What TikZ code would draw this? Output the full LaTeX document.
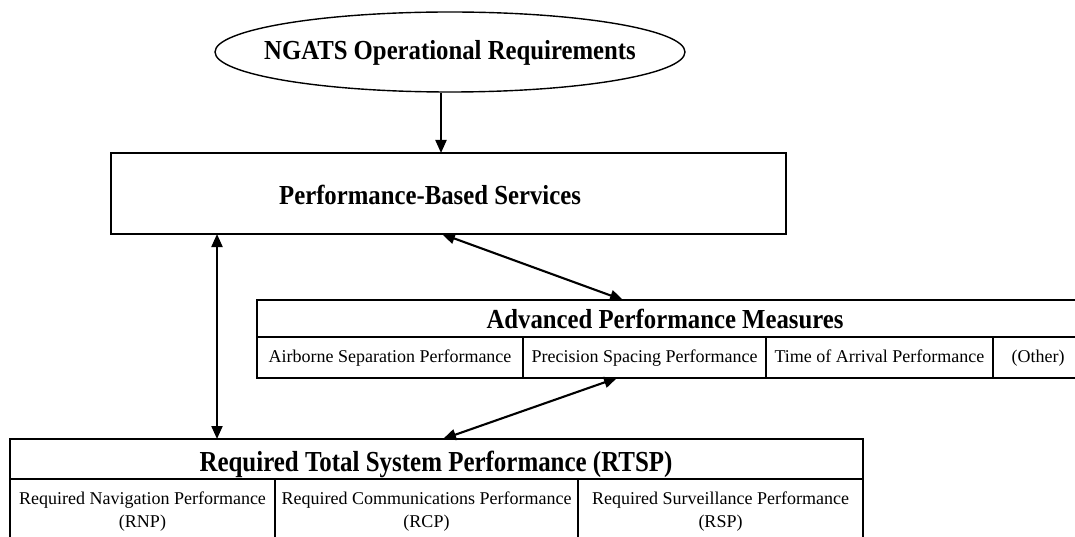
\documentclass[tikz,border=0pt]{standalone}
\usepackage{fontspec}
\setmainfont{Liberation Serif}
\newfontfamily\bcond[FakeStretch=0.9]{Liberation Serif}
\newfontfamily\bcondh[FakeStretch=0.86]{Liberation Serif}
\usetikzlibrary{arrows.meta,shapes.geometric,calc}
\tikzset{
  boxline/.style={draw=black, line width=1.4pt},
  cell/.style={boxline, rectangle, inner sep=0pt, outer sep=0pt, anchor=north west},
  bigtxt/.style={inner sep=0pt, font=\bcond\bfseries\fontsize{27.5}{30}\selectfont},
  hdrtxt/.style={inner sep=0pt, font=\bcondh\bfseries\fontsize{29}{32}\selectfont},
  subtxt/.style={inner sep=0pt, font=\fontsize{18}{23}\selectfont, align=center},
  arr/.style={line width=2.1pt, -{Triangle[length=13pt,width=11pt]}},
  darr/.style={line width=2.1pt, {Triangle[length=13pt,width=11pt]}-{Triangle[length=13pt,width=11pt]}},
}
\begin{document}
\begin{tikzpicture}[x=1pt,y=1pt]
\useasboundingbox (0,0) rectangle (1075,-537);
\begin{scope}
\clip (0,0) rectangle (1075,-537);
% ellipse
\node[ellipse, boxline, minimum width=470, minimum height=80, inner sep=0pt] (ngats) at (450,-52) {};
\node[bigtxt, anchor=base] (ngatstxt) at (450,-60) {NGATS Operational Requirements};
% PBS box
\node[cell, minimum width=675, minimum height=81] (pbs) at (111,-153) {};
\node[bigtxt, anchor=base] (pbstxt) at (430,-205) {Performance-Based Services};
% APM table
\node[cell, minimum width=823, minimum height=37] (apm) at (257,-300) {};
\node[bigtxt, anchor=base] (apmtxt) at (665,-328) {Advanced Performance Measures};
\node[cell, minimum width=266, minimum height=41] (asp) at (257,-337) {};
\node[cell, minimum width=243, minimum height=41] (psp) at (523,-337) {};
\node[cell, minimum width=227, minimum height=41] (toa) at (766,-337) {};
\node[cell, minimum width=87, minimum height=41] (oth) at (993,-337) {};
\node[subtxt, anchor=base] (asptxt) at ($(asp.center)+(0,-5)$) {Airborne Separation Performance};
\node[subtxt, anchor=base] (psptxt) at ($(psp.center)+(0,-5)$) {Precision Spacing Performance};
\node[subtxt, anchor=base] (toatxt) at ($(toa.center)+(0,-5)$) {Time of Arrival Performance};
\node[subtxt, anchor=base] (othtxt) at (1038,-362) {(Other)};
% RTSP table
\node[cell, minimum width=853, minimum height=40] (rtsp) at (10,-439) {};
\node[hdrtxt, anchor=base] (rtsptxt) at (436,-471) {Required Total System Performance (RTSP)};
\node[cell, minimum width=265, minimum height=75] (rnp) at (10,-479) {};
\node[cell, minimum width=303, minimum height=75] (rcp) at (275,-479) {};
\node[cell, minimum width=285, minimum height=75] (rsp) at (578,-479) {};
\node[subtxt, anchor=north] (rnptxt) at ($(rnp.north)+(0,-13)$) {Required Navigation Performance\\(RNP)};
\node[subtxt, anchor=north] (rcptxt) at ($(rcp.north)+(0,-13)$) {Required Communications Performance\\(RCP)};
\node[subtxt, anchor=north] (rsptxt) at ($(rsp.north)+(0,-13)$) {Required Surveillance Performance\\(RSP)};
\end{scope}
% connectors
\coordinate (c1) at (441,0);
\draw[arr] (c1 |- ngats.south) -- (c1 |- pbs.north);
\coordinate (c2) at (217,0);
\draw[darr] (c2 |- pbs.south) -- (c2 |- rtsp.north);
\coordinate (c3) at (442,0);
\coordinate (c4) at (623,0);
\draw[darr] (c3 |- pbs.south) -- (c4 |- apm.north);
\coordinate (c5) at (617,0);
\coordinate (c6) at (443,0);
\draw[darr] (c5 |- asp.south) -- (c6 |- rtsp.north);
\end{tikzpicture}
\end{document}
